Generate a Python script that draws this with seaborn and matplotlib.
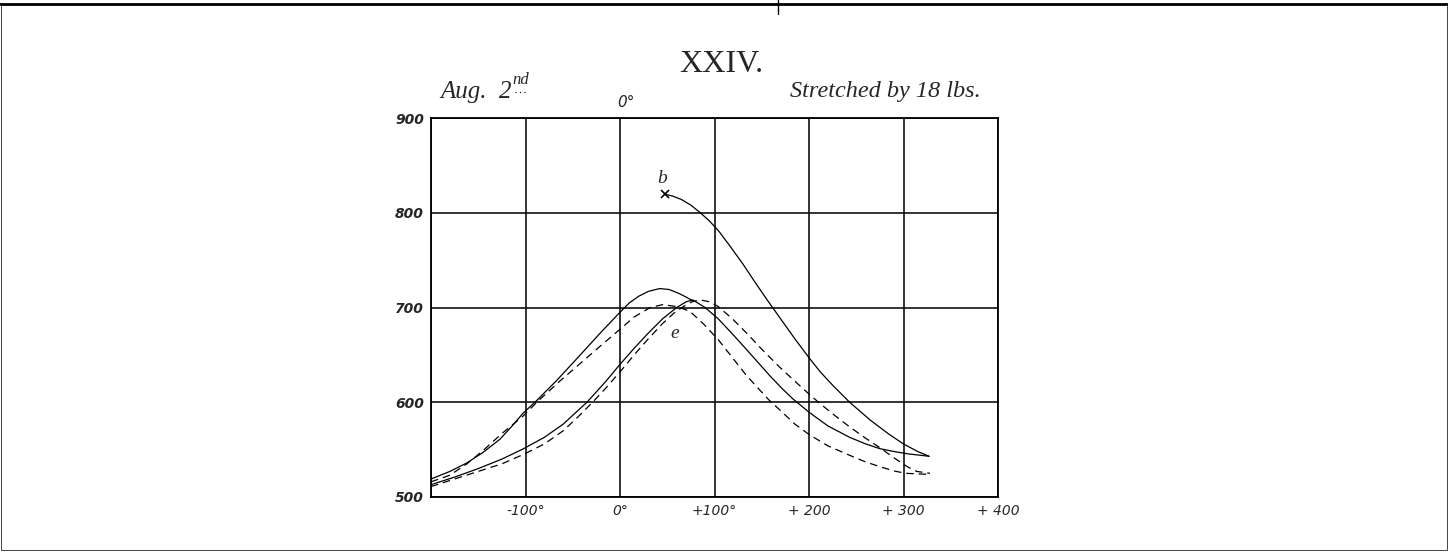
import matplotlib
matplotlib.use('Agg')
import pandas as pd
import seaborn as sns
import matplotlib.pyplot as plt
from matplotlib.lines import Line2D

sns.set_style('white')

# curve values (x in degrees, y in scale units)
outer_solid_x = [-200, -180, -162, -145, -127, -115, -103, -88, -67, -42, -20, 0, 10, 20, 30, 42, 52, 62, 70, 77]
outer_solid_y = [519, 527, 536, 547, 561, 574, 588, 602, 623, 650, 674, 695, 705, 712, 717, 720, 719, 715, 711, 707]

inner_solid_x = [-200, -175, -150, -125, -102, -80, -60, -35, -15, 0, 15, 30, 45, 60, 70, 77,
                 90, 104, 120, 134, 147, 159, 171, 183, 200, 220, 243, 260, 275, 290, 305, 327]
inner_solid_y = [513, 521, 530, 540, 551, 563, 577, 600, 622, 640, 657, 673, 688, 700, 706, 708,
                 700, 688, 671, 655.5, 641, 627.5, 615, 603.5, 589.5, 575, 563, 556, 551, 548, 545.5, 543]

b_x = [48, 56, 65, 75, 85, 95, 105, 117, 130, 142, 155, 170, 185, 200, 212, 225, 243, 265, 285, 300, 315, 327]
b_y = [819.5, 817.5, 814, 808, 800, 791, 780, 764, 746, 728, 709, 688, 667, 647, 632, 618, 600, 581, 566, 556, 548, 543]

outer_dash_x = [-200, -180, -162, -145, -125, -103, -87, -64, -42, -20, 0, 15, 32, 45, 60, 74, 89, 104,
                119, 134, 146, 157, 169, 185, 200, 220, 243, 260, 275, 290, 302, 325]
outer_dash_y = [516, 523, 535, 549, 567, 585, 601, 622, 641, 660, 677, 690, 700, 703, 701, 696, 682, 666,
                647, 628, 615, 603, 592, 577, 566, 554, 544, 537, 532, 527.5, 525, 524]

inner_dash_x = [-200, -175, -150, -125, -102, -80, -60, -45, -28, -15, 0, 15, 30, 45, 57, 67, 76, 85, 95, 104,
                119, 134, 150, 169, 182, 194, 210, 226, 243, 260, 275, 289, 304, 314, 328]
inner_dash_y = [511, 519, 527, 535, 545, 556, 570, 584, 601, 615, 632, 650, 667, 683, 694, 701, 706, 708, 706, 701,
                688, 673, 656, 637, 625, 614, 600, 587, 574, 562, 552, 542, 532, 527, 525]

x_ticks = [-200, -100, 0, 100, 200, 300, 400]
x_labels = ['', '-100°', '0°', '+100°', '+ 200', '+ 300', '+ 400']
y_ticks = [500, 600, 700, 800, 900]
y_labels = ['500', '600', '700', '800', '900']

fig = plt.figure(figsize=(14.48, 5.52), dpi=100)
ax = fig.add_axes([431 / 1448, 1 - 497 / 552, 567 / 1448, 379 / 552])

curves = [
    (outer_solid_x, outer_solid_y, '-'),
    (inner_solid_x, inner_solid_y, '-'),
    (b_x, b_y, '-'),
    (outer_dash_x, outer_dash_y, (0, (6, 4))),
    (inner_dash_x, inner_dash_y, (0, (6, 4))),
]
for cx, cy, ls in curves:
    df = pd.DataFrame({'x': cx, 'y': cy})
    sns.lineplot(data=df, x='x', y='y', sort=False, estimator=None, ax=ax,
                 color='black', linewidth=0.9, linestyle=ls)

ax.plot(b_x[0], b_y[0], marker='x', color='black', markersize=6, mew=1.2)
ax.text(45, 836, 'b', fontsize=14, style='italic', family='Liberation Serif', ha='center', va='center')
ax.text(58, 673, 'e', fontsize=14, style='italic', family='Liberation Serif', ha='center', va='center')

ax.set_xlim(-200, 400)
ax.set_ylim(500, 900)
ax.set_xticks(x_ticks)
ax.set_xticklabels(x_labels, fontsize=10, style='italic')
ax.set_yticks(y_ticks)
ax.set_yticklabels(y_labels, fontsize=10, style='italic', weight='bold')
ax.tick_params(length=0, pad=5)
ax.set_xlabel('')
ax.set_ylabel('')
ax.grid(True, color='#111111', linewidth=1.2)
for s in ax.spines.values():
    s.set_color('black')
    s.set_linewidth(1.3)

ax.text(6, 1.04, '0°', transform=ax.get_xaxis_transform(), fontsize=11, style='italic', ha='center', va='center')

fig.text(721 / 1448, 1 - 65 / 552, 'XXIV.', fontsize=23, family='Liberation Serif', ha='center', va='center')
fig.text(440 / 1448, 1 - 92 / 552, 'Aug.  2', fontsize=18, family='Liberation Serif', style='italic', ha='left', va='center')
fig.text(512 / 1448, 1 - 80 / 552, 'nd', fontsize=12, family='Liberation Serif', style='italic', ha='left', va='center')
# small dotted underline below the superscript
fig.add_artist(Line2D([515 / 1448, 527 / 1448], [1 - 92 / 552, 1 - 92 / 552], transform=fig.transFigure,
                      color='black', linewidth=0.8, linestyle=(0, (1, 3))))
fig.text(981 / 1448, 1 - 92 / 552, 'Stretched by 18 lbs.', fontsize=17.5, family='Liberation Serif', style='italic', ha='right', va='center')

# plate border
fig.add_artist(Line2D([0.001, 0.999, 0.999, 0.001, 0.001], [0.992, 0.992, 0.003, 0.003, 0.992],
                      transform=fig.transFigure, color='#444444', linewidth=0.7))
fig.add_artist(Line2D([0, 1], [0.992, 0.992], transform=fig.transFigure, color='black', linewidth=2))
fig.add_artist(Line2D([778 / 1448, 778 / 1448], [1.0, 0.975], transform=fig.transFigure, color='black', linewidth=1))

fig.savefig('out.png', dpi=100)
